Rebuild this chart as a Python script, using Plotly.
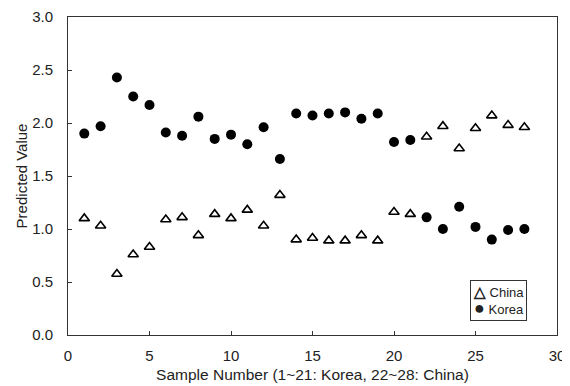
import plotly.graph_objects as go

samples = list(range(1, 29))
korea = [1.90, 1.97, 2.43, 2.25, 2.17, 1.91, 1.88, 2.06, 1.85, 1.89,
         1.80, 1.96, 1.66, 2.09, 2.07, 2.09, 2.10, 2.04, 2.09, 1.82,
         1.84, 1.11, 1.00, 1.21, 1.02, 0.90, 0.99, 1.00]
china = [1.10, 1.03, 0.575, 0.76, 0.83, 1.09, 1.11, 0.94, 1.14, 1.10,
         1.18, 1.03, 1.32, 0.90, 0.915, 0.89, 0.89, 0.94, 0.89, 1.16,
         1.14, 1.87, 1.97, 1.76, 1.95, 2.07, 1.98, 1.96]
series_names = ["China", "Korea"]

font = "Liberation Sans, Arial, sans-serif"

fig = go.Figure()
fig.add_trace(go.Scatter(x=samples, y=china, mode="markers", name=series_names[0],
                         marker=dict(symbol="triangle-up-open", size=9, color="black",
                                     line=dict(width=1.6, color="black"))))
fig.add_trace(go.Scatter(x=samples, y=korea, mode="markers", name=series_names[1],
                         marker=dict(symbol="circle", size=10, color="black")))

fig.add_annotation(
    xref="paper", yref="paper", x=0.939, y=0.044, xanchor="right", yanchor="bottom",
    text=(f"<span style='font-size:15px'><b>△</b></span> {series_names[0]}<br>"
          f"<span style='font-size:18px'>●</span> {series_names[1]}"),
    showarrow=False, align="left",
    font=dict(family=font, size=13, color="#222"),
    bgcolor="white", bordercolor="#333", borderwidth=1, borderpad=2,
)

fig.update_layout(
    width=562, height=378,
    margin=dict(l=60, r=13, t=9, b=51, autoexpand=False),
    paper_bgcolor="white", plot_bgcolor="white",
    font=dict(family=font, size=15, color="#222"),
    showlegend=False,
    xaxis=dict(range=[0, 30], tickvals=[0, 5, 10, 15, 20, 25, 30],
               showgrid=False, zeroline=False, showline=True, linecolor="#333",
               linewidth=1, mirror=True, ticks="inside", ticklen=4, tickcolor="#333",
               automargin=False, ticklabelstandoff=7,
               title=dict(text="Sample Number (1~21: Korea, 22~28: China)", standoff=6,
                          font=dict(size=15.5))),
    yaxis=dict(range=[0, 3], tickvals=[0, 0.5, 1, 1.5, 2, 2.5, 3],
               tickformat=".1f", automargin=False, ticklabelstandoff=11,
               showgrid=False, zeroline=False, showline=True, linecolor="#333",
               linewidth=1, mirror=True, ticks="inside", ticklen=4, tickcolor="#333",
               title=dict(text="Predicted Value", standoff=0, font=dict(size=15))),
)

fig.write_html("out.html")
